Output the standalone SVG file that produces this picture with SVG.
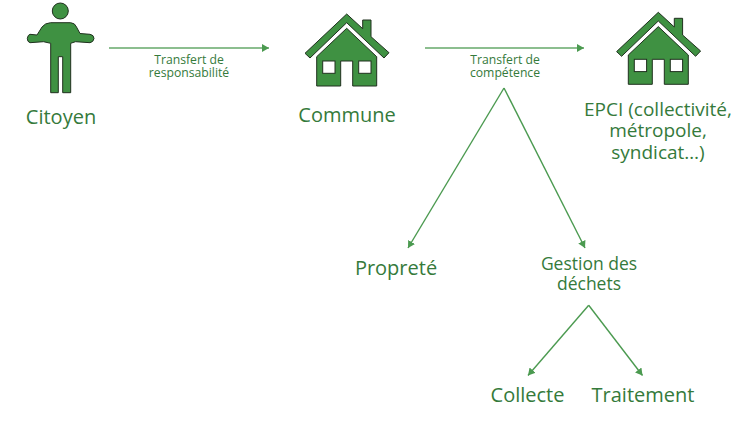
<svg xmlns="http://www.w3.org/2000/svg" xmlns:xlink="http://www.w3.org/1999/xlink" width="751" height="432" viewBox="0 0 751 432">
<style>
text{font-family:"Open Sans","Noto Sans","Liberation Sans",sans-serif;fill:#357a3b;text-anchor:middle}
.l{font-size:20px}
.e{font-size:19px}
.g{font-size:17.500px}
.s{font-size:12.200px}
.i{fill:#3f9142;stroke:#20301f;stroke-width:1;stroke-linejoin:round}
.w{fill:#fff;stroke:#20301f;stroke-width:1}
.c{fill:none;stroke-width:1.4;stroke:#4b9a50}
.h{stroke:#66a96a;stroke-width:1.5}
</style>
<defs>
<marker id="a" markerUnits="userSpaceOnUse" markerWidth="10" markerHeight="10" refX="7" refY="4" orient="auto"><path d="M0,0L7,4L0,8Z" fill="#4b9a50"/></marker>
<g id="house">
<path class="i" d="M346.700,14L362.700,28.700V20H371V36.700L389,52.700L384,58L346.700,22.700L310,58L305,53.300Z"/>
<path class="i" d="M346.700,28.300L376.700,56.700V86H352.700V61H340.700V86H316.700V56.700Z"/>
<rect class="w" x="322.700" y="61" width="12.300" height="12.300"/>
<rect class="w" x="358.700" y="61" width="12.300" height="12.300"/>
</g>
</defs>
<g id="connectors">
<path class="c h" d="M109,48H269" marker-end="url(#a)"/>
<path class="c h" d="M425,48H584" marker-end="url(#a)"/>
<path class="c" d="M504,88L408,248" marker-end="url(#a)"/>
<path class="c" d="M504,88L585,248" marker-end="url(#a)"/>
<path class="c" d="M588.700,305.300L528,375.500" marker-end="url(#a)"/>
<path class="c" d="M588.700,305.300L642.500,375.500" marker-end="url(#a)"/>
</g>
<g id="citoyen">
<circle class="i" cx="60.300" cy="11" r="8"/>
<path class="i" d="M50.500,22.700H70.700Q75,23 76.500,27L80,33.500L90,34.300Q94,35 94,38.500Q93.500,42 90,42.700L75.500,41.700L70.700,43.300V92.700H62.700V56.700H58.300V92.700H50.700V43.300L43.500,41.700L30,42.700Q27.300,42 27.300,38.300Q28,34.700 30,34.300L37,35L42,27Q45,23 50.500,22.700Z"/>
<text class="l" x="61" y="124">Citoyen</text>
</g>
<g id="transfert-responsabilite">
<text class="s" x="189" y="64">Transfert de</text>
<text class="s" x="189" y="77">responsabilité</text>
</g>
<g id="commune">
<use xlink:href="#house" href="#house"/>
<text class="l" x="347" y="122">Commune</text>
</g>
<g id="transfert-competence">
<text class="s" x="505" y="64">Transfert de</text>
<text class="s" x="505" y="77">compétence</text>
</g>
<g id="epci">
<use xlink:href="#house" href="#house" x="311.600" y="-1.700"/>
<text class="e" x="658" y="116">EPCI (collectivité,</text>
<text class="e" x="658" y="137">métropole,</text>
<text class="e" x="658" y="159">syndicat…)</text>
</g>
<g id="proprete"><text class="l" x="396" y="275">Propreté</text></g>
<g id="gestion">
<text class="g" x="589" y="270">Gestion des</text>
<text class="g" x="589" y="290">déchets</text>
</g>
<g id="collecte"><text class="l" x="527.500" y="402">Collecte</text></g>
<g id="traitement"><text class="l" x="643" y="402">Traitement</text></g>
</svg>
